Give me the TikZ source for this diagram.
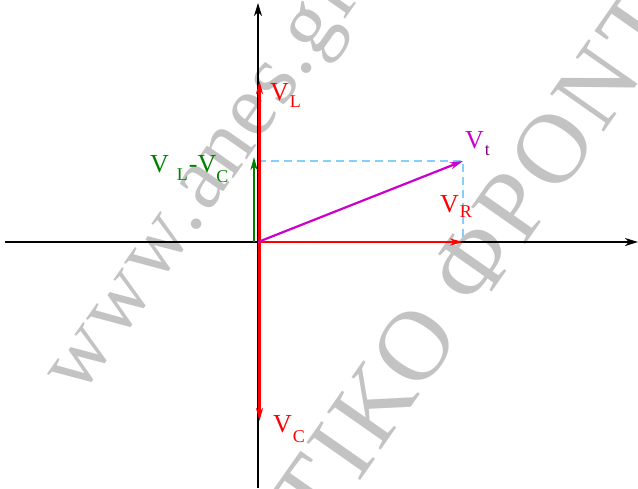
\documentclass[tikz,border=0pt]{standalone}
\usepackage{fontspec}
\setmainfont{Liberation Serif}
\newfontfamily\wmfont[LetterSpace=5]{Liberation Serif}
\usetikzlibrary{arrows.meta}
\definecolor{wmgray}{RGB}{195,195,195}
\definecolor{vred}{RGB}{255,0,0}
\definecolor{vgreen}{RGB}{0,128,0}
\definecolor{vmag}{RGB}{204,0,204}
\definecolor{vpurp}{RGB}{128,0,128}
\definecolor{vblue}{RGB}{135,206,250}
\newcommand\sbs[2][7pt]{\raisebox{-#1}{\fontsize{18}{18}\selectfont #2}}
\begin{document}
\begin{tikzpicture}[x=1pt,y=-1pt,
  axis/.style={line width=1.8pt, -{Stealth[length=13pt,width=8pt,inset=4pt]}},
  phasor/.style={line width=2.6pt, -{Stealth[length=13pt,width=7pt,inset=4pt]}},
  proj/.style={vblue, line width=1.8pt, dash pattern=on 8pt off 5pt},
  lbl/.style={inner sep=0pt, anchor=base west, font=\fontsize{26}{26}\selectfont},
  wm/.style={wmgray, inner sep=0pt, anchor=base west, rotate=55, font=\wmfont\fontsize{88}{88}\selectfont}]
\useasboundingbox (0,0) rectangle (638,488);
\begin{scope}
\clip (0,0) rectangle (638,488);
\node[wm] (wm1) at (80,398) {www.a\kern2pt n\kern2pt e\kern2pt s\kern2pt.\kern2pt gr};
\node[wm, font=\wmfont\fontsize{100}{100}\selectfont] (wm2) at (320,538) {ΤΙΚΟ ΦΡΟΝΤ};
\end{scope}
% coordinates
\coordinate (O) at (258,242);
\coordinate (xl) at (5,242);
\coordinate (xr) at (638,242);
\coordinate (yb) at (258,488);
\coordinate (yt) at (258,3);
\coordinate (Lb) at (259.5,250);
\coordinate (Lt) at (259.5,81);
\coordinate (Cb) at (259.5,242);
\coordinate (Ct) at (259.5,421);
\coordinate (R) at (463,242);
\coordinate (T) at (463,161);
\coordinate (Gb) at (254,242);
\coordinate (Gt) at (254,157);
\coordinate (Ty) at (258,161);
% axes
\draw[axis] (xl) -- (xr);
\draw[axis] (yb) -- (yt);
% projections
\draw[proj] (Ty) -- (T) -- (R);
% phasors
\draw[phasor, vred] (Lb) -- (Lt);
\draw[phasor, vred] (Cb) -- (Ct);
\draw[phasor, vred] (O) -- (R);
\draw[phasor, vgreen, line width=2.2pt] (Gb) -- (Gt);
\draw[phasor, vmag, line width=2.2pt] (O) -- (T);
% labels
\node[lbl, vred] (lL) at (270,100) {V\kern1pt\sbs{L}};
\node[lbl, vgreen] (lLC) at (150,172) {V\kern8pt\sbs[8pt]{L}\kern1pt-\kern0pt V\sbs[10pt]{C}};
\node[lbl, vmag] (lt) at (465,148) {V\kern1pt\textcolor{vpurp}{\sbs{t}}};
\node[lbl, vred] (lR) at (440,212) {V\kern1pt\sbs[5pt]{R}};
\node[lbl, vred] (lC) at (273,432) {V\kern1pt\sbs[10pt]{C}};
\end{tikzpicture}
\end{document}
